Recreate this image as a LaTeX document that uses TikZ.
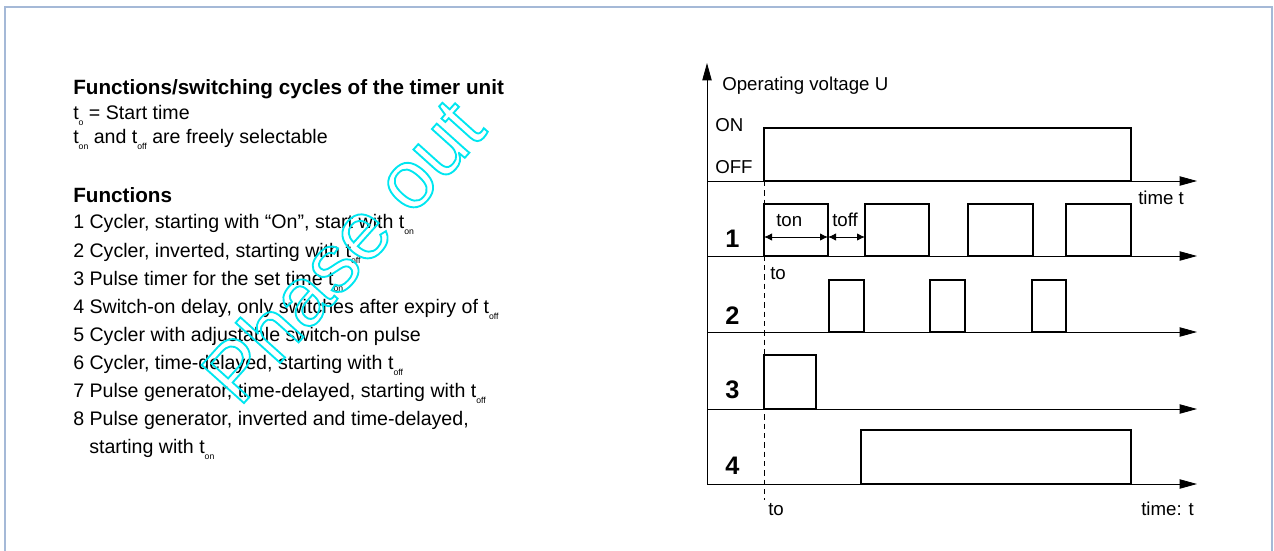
\documentclass[tikz,border=0pt]{standalone}
\usepackage{fontspec}
\setmainfont{Liberation Sans}
\usetikzlibrary{arrows.meta}

\definecolor{framecol}{RGB}{165,185,215}
\definecolor{markcol}{RGB}{0,230,240}

\newcommand*{\xorig}{707}
\newcommand*{\xend}{1197}
\newcommand*{\tstart}{764}
\newcommand*{\tstop}{1131}
\newcommand*{\tsub}[1]{t\raisebox{-5pt}{\fontsize{6.5}{6.5}\selectfont #1}}
\newcommand*{\outlined}[1]{\special{pdf:literal direct 1 Tr 1.4 w}#1\special{pdf:literal direct 0 Tr}}

\begin{document}
\begin{tikzpicture}
[
	x=0.75pt, y=-0.75pt,
	axis/.style={-{Triangle[length=13pt,width=7pt]},line width=0.6pt},
	signal/.style={line width=0.8pt},
	dimarrow/.style={{Latex[length=6pt,width=5.5pt]}-{Latex[length=6pt,width=5.5pt]},line width=0.6pt},
	rowlabel/.style={font=\fontsize{19}{19}\selectfont\bfseries,anchor=base west,inner sep=0pt},
	lbl/.style={font=\fontsize{14}{16}\selectfont,anchor=base west,inner sep=0pt},
	item/.style={font=\fontsize{14.7}{17}\selectfont,anchor=base west,inner sep=0pt},
	head/.style={item,font=\fontsize{15.5}{17}\selectfont\bfseries}
]
	\useasboundingbox (0,0) rectangle (1274,550);

	% frame
	\draw[framecol,line width=1.5pt] (5,560) -- (5,7) -- (1272,7) -- (1272,560);

	% text block
	\node[head] (title) at (73,94) {Functions/switching cycles of the timer unit};
	\node[item] (start) at (73,119) {\tsub{o} = Start time};
	\node[item] (free) at (73,143) {\tsub{on} and \tsub{off} are freely selectable};
	\node[head] (fhead) at (73,202) {Functions};
	\node[item] (f1) at (73,228) {1 Cycler, starting with “On”, start with \tsub{on}};
	\node[item] (f2) at (73,257) {2 Cycler, inverted, starting with \tsub{off}};
	\node[item] (f3) at (73,285) {3 Pulse timer for the set time \tsub{on}};
	\node[item] (f4) at (73,313) {4 Switch-on delay, only switches after expiry of \tsub{off}};
	\node[item] (f5) at (73,341) {5 Cycler with adjustable switch-on pulse};
	\node[item] (f6) at (73,369) {6 Cycler, time-delayed, starting with \tsub{off}};
	\node[item] (f7) at (73,397) {7 Pulse generator, time-delayed, starting with \tsub{off}};
	\node[item] (f8) at (73,425) {8 Pulse generator, inverted and time-delayed,};
	\node[item] (f8b) at (89,453) {starting with \tsub{on}};

	% watermark
	\node[rotate=48,inner sep=0pt,text=markcol,font=\fontsize{62}{62}\selectfont] (phase) at (342,250)
		{\outlined{Phase out}};

	% axes
	\coordinate (o) at (\xorig,484);
	\coordinate (ytop) at (\xorig,63);
	\draw[axis] (o) -- (ytop);
	\foreach \y/\n in {181/v, 256/r1, 332/r2, 409/r3, 484/r4}
	{
		\coordinate (\n-a) at (\xorig,\y);
		\coordinate (\n-b) at (\xend,\y);
		\draw[axis] (\n-a) -- (\n-b);
	}

	% start time
	\coordinate (t0top) at (\tstart,181);
	\coordinate (t0bot) at (\tstart,500);
	\draw[dashed,dash pattern=on 4pt off 3pt,line width=0.6pt] (t0top) -- (t0bot);

	% operating voltage
	\node[lbl] (volt) at (722,90) {Operating voltage U};
	\node[lbl] (on) at (715,131) {ON};
	\node[lbl] (off) at (715,173) {OFF};
	\draw[signal] (\tstart,181) rectangle (\tstop,128);
	\node[lbl] (time1) at (1138,204) {time t};

	% 1
	\node[rowlabel] (l1) at (725,247) {1};
	\foreach \a/\b in {764/828, 865/929, 968/1033, 1066/1131}
		\draw[signal] (\a,256) rectangle (\b,204);
	\coordinate (ton-a) at (764,237);
	\coordinate (ton-b) at (828,237);
	\coordinate (toff-b) at (865,237);
	\draw[dimarrow] (ton-a) -- (ton-b);
	\draw[dimarrow] (ton-b) -- (toff-b);
	\node[lbl] (ton) at (776,226) {ton};
	\node[lbl] (toff) at (832,226) {toff};
	\node[lbl] (to1) at (770,279) {to};

	% 2
	\node[rowlabel] (l2) at (725,324) {2};
	\foreach \a/\b in {829/864, 930/965, 1032/1066}
		\draw[signal] (\a,332) rectangle (\b,280);

	% 3
	\node[rowlabel] (l3) at (725,398) {3};
	\draw[signal] (764,409) rectangle (816,355);

	% 4
	\node[rowlabel] (l4) at (725,474) {4};
	\draw[signal] (861,484) rectangle (\tstop,430);

	\node[lbl] (to2) at (768,515) {to};
	\node[lbl] (time2) at (1141,515) {time: t};

\end{tikzpicture}
\end{document}
